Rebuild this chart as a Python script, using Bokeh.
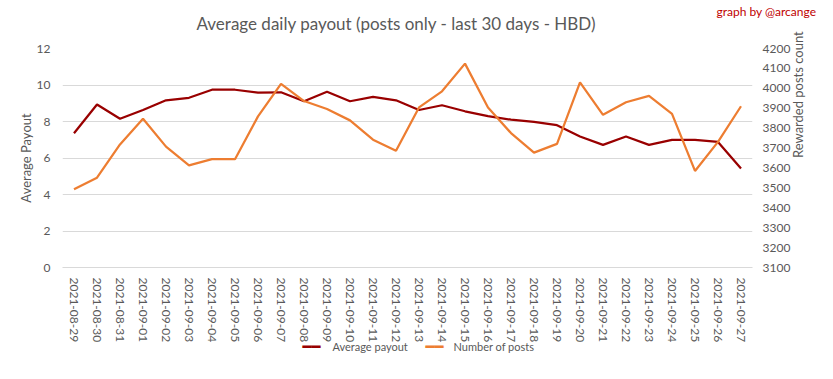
import math
from bokeh.plotting import figure
from bokeh.models import (FactorRange, Range1d, LinearAxis, FixedTicker,
                          ColumnDataSource, Title)
from bokeh.embed import file_html
from bokeh.resources import INLINE

dates = ["2021-08-29", "2021-08-30", "2021-08-31", "2021-09-01", "2021-09-02",
         "2021-09-03", "2021-09-04", "2021-09-05", "2021-09-06", "2021-09-07",
         "2021-09-08", "2021-09-09", "2021-09-10", "2021-09-11", "2021-09-12",
         "2021-09-13", "2021-09-14", "2021-09-15", "2021-09-16", "2021-09-17",
         "2021-09-18", "2021-09-19", "2021-09-20", "2021-09-21", "2021-09-22",
         "2021-09-23", "2021-09-24", "2021-09-25", "2021-09-26", "2021-09-27"]

avg_payout = [7.36, 8.93, 8.15, 8.63, 9.16, 9.30, 9.74, 9.74, 9.58, 9.60,
              9.11, 9.63, 9.11, 9.35, 9.16, 8.63, 8.89, 8.56, 8.29, 8.10,
              7.98, 7.80, 7.18, 6.72, 7.18, 6.72, 6.99, 6.99, 6.88, 5.43]

num_posts = [3493, 3551, 3718, 3847, 3707, 3613, 3644, 3644, 3859, 4022,
             3936, 3896, 3839, 3742, 3686, 3904, 3985, 4124, 3904, 3775,
             3677, 3721, 4030, 3867, 3930, 3962, 3872, 3585, 3731, 3910]

left_ticks = [0, 2, 4, 6, 8, 10, 12]
right_ticks = [3100, 3200, 3300, 3400, 3500, 3600, 3700, 3800, 3900, 4000, 4100, 4200]

title_text = "Average daily payout (posts only - last 30 days - HBD)"
credit_text = "graph by @arcange"
series_names = ["Average payout", "Number of posts"]

FONT = "Lato"
GREY = "#595959"
RED = "#990000"
ORANGE = "#ED7D31"

src = ColumnDataSource(data=dict(d=dates, p=avg_payout, n=num_posts))

p = figure(width=817, height=363, x_range=FactorRange(*dates), title=None,
           y_range=Range1d(0, 12), output_backend="svg", toolbar_location=None,
           min_border_left=54, min_border_right=64, min_border_top=41,
           min_border_bottom=96)
p.extra_y_ranges = {"posts": Range1d(3100, 4200)}
p.outline_line_color = None
p.xgrid.grid_line_color = None
p.ygrid.grid_line_color = "#d9d9d9"
p.ygrid.grid_line_width = 1
p.ygrid.ticker = FixedTicker(ticks=left_ticks)


def mk_title(text, size, color, align, offset, valign, standoff, font=FONT):
    kw = dict(text=text, align=align, offset=offset, vertical_align=valign,
              text_font=font, text_font_size=size, text_font_style="normal",
              text_color=color)
    try:
        return Title(standoff=standoff, **kw)
    except Exception:
        return Title(standoff=max(standoff, 0), **kw)


def pad(standoff):
    return mk_title(" ", "12px", "white", "left", 0, "top", standoff)


# ---- axes
ya = p.yaxis[0]
ya.ticker = FixedTicker(ticks=left_ticks)
ya.axis_label = "Average Payout"
ya.axis_line_color = None
ya.major_tick_line_color = None
ya.minor_tick_line_color = None
ya.major_tick_out = 0
ya.major_tick_in = 0
ya.major_label_standoff = 12
ya.major_label_text_font = FONT
ya.major_label_text_font_size = "12px"
ya.major_label_text_color = GREY
ya.axis_label_text_font = FONT
ya.axis_label_text_font_size = "13px"
ya.axis_label_text_font_style = "normal"
ya.axis_label_text_color = GREY
ya.axis_label_standoff = 0

ra = LinearAxis(y_range_name="posts", ticker=FixedTicker(ticks=right_ticks),
                axis_label="Rewarded posts count")
ra.axis_line_color = None
ra.major_tick_line_color = None
ra.minor_tick_line_color = None
ra.major_tick_out = 0
ra.major_tick_in = 0
ra.major_label_standoff = 10
ra.major_label_text_font = FONT
ra.major_label_text_font_size = "12px"
ra.major_label_text_color = GREY
ra.axis_label_text_font = FONT
ra.axis_label_text_font_size = "13px"
ra.axis_label_text_font_style = "normal"
ra.axis_label_text_color = GREY
ra.axis_label_standoff = 5
try:
    ra.axis_label_orientation = math.pi / 2
except Exception:
    pass
p.add_layout(ra, "right")

xa = p.xaxis[0]
xa.axis_line_color = "#d9d9d9"
xa.major_tick_line_color = None
xa.minor_tick_line_color = None
xa.major_tick_out = 0
xa.major_tick_in = 0
xa.major_label_orientation = "vertical"
xa.major_label_standoff = 10
xa.major_label_text_font = FONT
xa.major_label_text_font_size = "12px"
xa.major_label_text_color = GREY

# side padding (outside the axes)
p.add_layout(pad(-3.5), "left")
p.add_layout(pad(-35), "right")

# ---- header, stacked from the frame outwards: padding, main title, credit
p.add_layout(pad(4), "above")
p.add_layout(mk_title(title_text, "17px", GREY, "left", 134, "top", -17), "above")
p.add_layout(mk_title(credit_text, "12px", "#c00000", "left", 654, "middle", 4), "above")

# ---- lines
p.line("d", "p", source=src, line_color=RED, line_width=2.25)
p.line("d", "n", source=src, y_range_name="posts", line_color=ORANGE,
       line_width=2.25)

# ---- legend row below the date labels (zero-height title panels on one row)
p.add_layout(pad(-16), "below")
p.add_layout(mk_title(series_names[0], "11px", GREY, "left", 270, "middle", -15), "below")
p.add_layout(mk_title(series_names[1], "11px", GREY, "left", 391, "middle", -15), "below")
p.add_layout(mk_title("\u2501\u2501", "15px", RED, "left", 240, "middle", -23,
                      font="DejaVu Sans"), "below")
p.add_layout(mk_title("\u2501\u2501", "15px", ORANGE, "left", 363, "middle", -23,
                      font="DejaVu Sans"), "below")
p.add_layout(pad(-10), "below")

open("out.html", "w").write(file_html(p, INLINE))
